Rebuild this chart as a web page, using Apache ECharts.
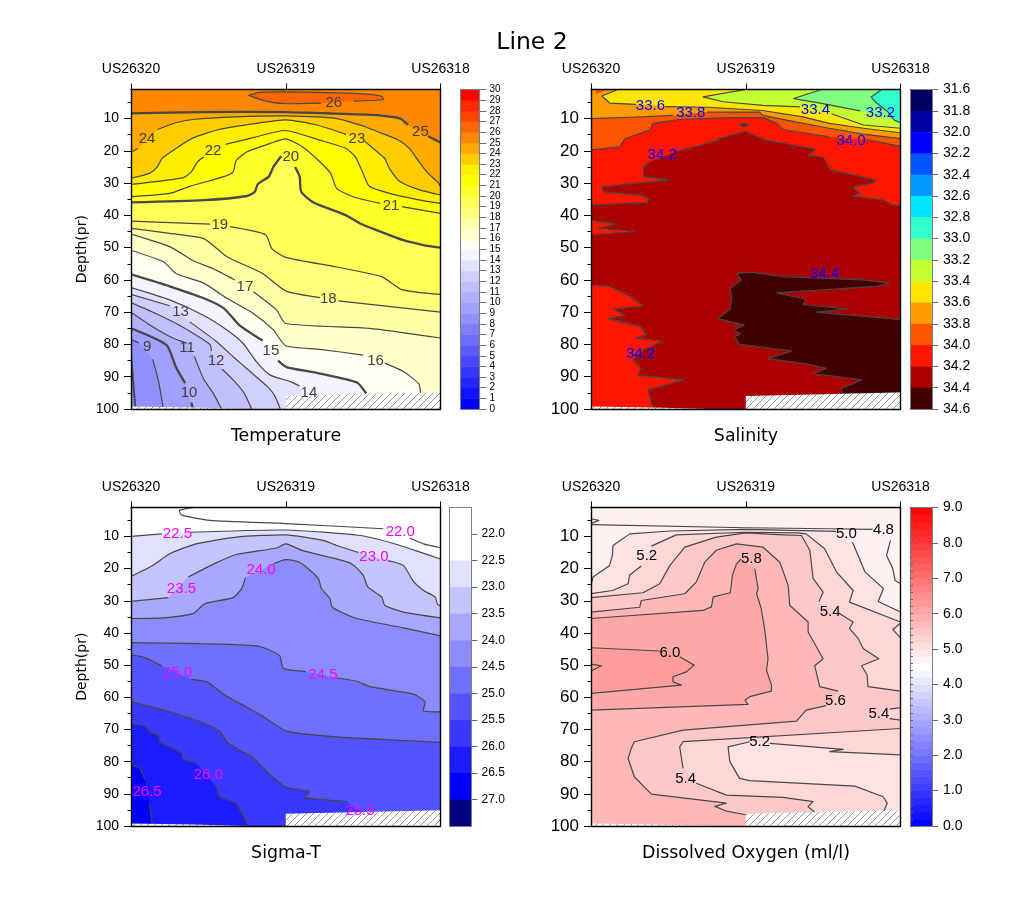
<!DOCTYPE html>
<html>
<head>
<meta charset="utf-8">
<style>html,body{margin:0;padding:0;background:#fff}#c{width:1024px;height:905px}</style>
<script src="https://cdn.jsdelivr.net/npm/echarts@6/dist/echarts.min.js"></script>
</head>
<body>
<div id="c"></div>
<script>
// ---------- shared axis values ----------
const stationNames = ['US26320', 'US26319', 'US26318'];
const depthMajor = [10, 20, 30, 40, 50, 60, 70, 80, 90, 100];
const depthMinor = [5, 15, 25, 35, 45, 55, 65, 75, 85, 95];
const plotCorners = [[0, 1], [200, 1], [200, 100], [0, 100]];
const missingLeft = [[0, 99.2], [40, 99.5], [76, 100], [0, 100]];

// ---------- colour bars ----------
const tempLevels = [0, 1, 2, 3, 4, 5, 6, 7, 8, 9, 10, 11, 12, 13, 14, 15, 16, 17, 18, 19, 20, 21, 22, 23, 24, 25, 26, 27, 28, 29, 30];
const tempColors = ['#0000ff', '#1212ff', '#2424ff', '#3636ff', '#4848ff', '#5a5aff', '#6c6cff', '#7e7eff', '#9090ff', '#a0a0ff', '#b0b0ff', '#c0c0ff', '#d0d0ff', '#e2e2ff', '#f4f4ff', '#fffff0', '#ffffcc', '#ffffa5', '#ffff7a', '#ffff55', '#ffff2a', '#ffff00', '#ffee00', '#ffcc00', '#ffaa00', '#ff8800', '#ff6600', '#ff4400', '#ff2a00', '#ff0000'];
const salLevels = [31.6, 31.8, 32.0, 32.2, 32.4, 32.6, 32.8, 33.0, 33.2, 33.4, 33.6, 33.8, 34.0, 34.2, 34.4, 34.6];
const salColors = ['#000060', '#0000a8', '#0000ff', '#0055ff', '#0099ff', '#00e6ff', '#33ffcc', '#80ff80', '#c4ff33', '#ffe600', '#ff9c00', '#ff5500', '#ff1500', '#aa0000', '#400000'];
const sigmaLevels = [21.5, 22.0, 22.5, 23.0, 23.5, 24.0, 24.5, 25.0, 25.5, 26.0, 26.5, 27.0, 27.5];
const sigmaColors = ['#ffffff', '#ffffff', '#e0e0ff', '#c4c4ff', '#a8a8ff', '#8c8cff', '#7070ff', '#5454ff', '#3838ff', '#1c1cff', '#0000ff', '#000080'];
const oxyLevels = [0, 0.2, 0.4, 0.6, 0.8, 1.0, 1.2, 1.4, 1.6, 1.8, 2.0, 2.2, 2.4, 2.6, 2.8, 3.0, 3.2, 3.4, 3.6, 3.8, 4.0, 4.2, 4.4, 4.6, 4.8, 5.0, 5.2, 5.4, 5.6, 5.8, 6.0, 6.2, 6.4, 6.6, 6.8, 7.0, 7.2, 7.4, 7.6, 7.8, 8.0, 8.2, 8.4, 8.6, 8.8, 9.0];
const oxyFill = ['#fff1ef', '#ffe3e3', '#ffd6d6', '#ffc8c8', '#ffb8b8', '#ffa8a8', '#ff9c9c'];

// ---------- missing-data wedges (x, depth) ----------
const missingRight1 = [[100, 96], [200, 94.9], [200, 100], [100, 100]];
const missingRight2 = [[100, 96.2], [200, 95.1], [200, 100], [100, 100]];

// ---------- Temperature contours (x, depth); null = gap round a label ----------
const t26 = [[76, 2.8], [83, 1.9], [111, 1.8], [148, 2.3], [162, 3.1], [163, 4.1], [144, 4.6], null, [123, 5.2], [98, 5.4], [88, 4.7], [76, 2.8]];
const t25 = [[0, 8.4], [47, 8], [100, 8], [133, 8.5], [160, 9], [174, 10], [179, 12], null, [192, 15.5], [200, 17.4]];
const t24 = [[0, 20.5], [4.5, 19.3], null, [17, 13.4], [29, 11.3], [40, 10.3], [68, 9.5], [100, 9.2], [133, 10], [150, 12.3], [159, 14], [173, 16.7], [180, 19.3], [187, 24], [192, 27], [198, 29.6], [200, 31]];
const t23 = [[0, 28.5], [12, 27], [17, 25], [20, 22.4], [29, 19.3], [40, 16], [57, 13.4], [81, 11.5], [100, 10.4], [120, 12], [139, 14.9], null, [151, 17], [159, 20.3], [164, 22.4], [167, 25.5], [174, 29.6], [187, 32.2], [200, 33.7]];
const t22 = [[0, 30.4], [34, 28.3], [39, 26.5], [43, 23.4], [47, 21.9], null, [61, 18], [79, 15.9], [100, 13.7], [122, 16.7], [139, 19.3], [145, 21.9], [150, 27], [154, 31], [167, 33.2], [185, 35.1], [200, 36.3]];
const t21 = [[0, 34.2], [25, 33.2], [38, 31], [60, 28], [66, 26.5], [68, 23], [75, 20.3], [90, 17.7], [100, 16.3], [111, 18.8], [122, 23.4], [129, 27], [133, 31.7], [144, 34.3], [161, 36.3], null, [175, 37.3], [200, 39.4]];
const t20 = [[0, 36], [47, 35.3], [75, 34], [80, 32.7], [82, 30.3], [89, 28], [92, 25], [97, 21.7], null, [106, 25], [109, 28], [110, 32.7], [118, 36], [139, 40], [148, 42.5], [161, 45], [176, 47.7], [189, 49.2], [200, 50]];
const t19 = [[0, 41.8], [51, 42.7], null, [64, 43.5], [87, 46], [91, 50.3], [100, 53], [133, 56], [162, 59], [175, 63], [200, 64.5]];
const t18 = [[0, 44], [25, 45.6], [47, 47.2], [62, 52.8], [85, 58], [100, 63.4], [122, 65.5], null, [134, 66.5], [200, 70]];
const t17 = [[0, 45.8], [25, 49.7], [40, 54], [53, 56.5], [67, 60], null, [79, 63.7], [94, 69.3], [100, 73.5], [154, 75], [200, 78]];
const t16 = [[0, 50.8], [21, 54.4], [29, 58], [47, 61], [62, 65.7], [79, 70.4], [92, 75.5], [100, 80.4], [122, 81.5], [150, 83.3], null, [164, 85.8], [176, 88.4], [186, 92.2], [187, 95]];
const t15 = [[0, 58.3], [25, 62], [47, 65.7], [60, 68.8], [70, 74], [85, 78.8], null, [95, 85], [100.5, 87], [120, 88.8], [146, 91.8], [152, 95.2]];
const t14 = [[0, 62.4], [25, 66.2], [47, 71], [62, 75.5], [72.5, 79.7], [81, 85.3], [90, 89.5], [103, 91.5], [109, 92.9], null, [111, 96]];
const t13 = [[0, 64.5], [25, 68], null, [38, 73], [55, 79], [66, 83.8], [77, 88.4], [88, 93], [93, 96], [96.5, 100]];
const t12 = [[0, 67], [16, 70.4], [31, 74], [51, 80], [52, 82], null, [59, 87.7], [66, 91], [73, 95], [78, 100]];
const t11 = [[0, 70], [14, 74.5], [27, 78], [36, 79.6], null, [41, 83.7], [47, 90.8], [53, 95], [58.5, 100]];
const t10 = [[0, 75], [23, 80.2], [29, 87], [35, 92], null, [39, 98], [40, 100]];
const t9 = [[0, 78.5], [5, 79.5], null, [14, 84.6], [17.5, 90.8], [21, 100]];
const t8 = [[0, 82.5], [1.5, 92], [3, 100]];
const tempLabels = [[131, 5, '26'], [187, 14.2, '25'], [10.4, 16.2, '24'], [146, 16.2, '23'], [53, 20, '22'], [168, 37.1, '21'], [103.3, 22, '20'], [57.4, 43, '19'], [127.5, 66, '18'], [73.6, 62, '17'], [158, 85, '16'], [90.4, 82, '15'], [115, 95, '14'], [32, 70, '13'], [55, 85, '12'], [36.2, 81.2, '11'], [37.5, 95, '10'], [10.4, 80.9, '9']];

// ---------- Salinity contours ----------
const sCorner = [[3, 2.5], [8, 1.5], [16, 1], [3, 1]];
const s336 = [[17.5, 1], [7, 3], [12, 5.2], [29, 5.6], null, [48, 6.3], [76, 6.5], [111, 7.5], [137, 9.5], [154, 11.5], [176, 13], [200, 14.4]];
const s334 = [[100, 1], [72.4, 3.3], [85.3, 4.8], [111, 5.9], [135, 6.4], null, [155.4, 8.5], [176, 12], [200, 13]];
const s332 = [[149, 1], [131, 3.8], [148, 5.2], [164, 6.7], [174, 7.6]];
const s330 = [[188, 1], [181, 3.3], [184.5, 5.2], [192, 8], [196, 10.5], [200, 11.3]];
const s338 = [[0, 10], [25, 9.6], [53, 9], null, [75, 8], [109, 8], [111, 9], [137, 11.5], [154, 13], [176, 14.8], [200, 16.2]];
const s340 = [[0, 19.7], [18.5, 18.8], [22, 16.2], [38, 13.6], [40, 11.5], [57, 10.3], [90, 9.7], [111, 9.7], [120, 11.5], [124, 13.4], [154, 15.7], null, [178, 16.5], [200, 18.6]];
const sDot = [[96, 12], [99, 11.5], [102, 12], [99, 12.7], [96, 12]];
const s342 = [[0, 36.8], [36, 36], [37.5, 34.8], [31.5, 33.7], [8, 32.7], [7, 31.2], [50, 29], [34, 28], [34, 25], [38, 23.4], null, [55, 20.3], [83, 16.7], [82, 16.2], [100, 14], [113, 16.7], [140, 19], [145, 19.6], [140, 21.4], [150, 22], [155, 26], [184, 29], [182, 30], [169, 31.2], [174, 33.2], [169, 34], [189, 35.3], [195, 36.8], [200, 37]];
const s342mid = [[0, 41.5], [16.5, 42.7], [4.5, 44], [29, 45], [0, 46]];
const s342low = [[0, 61.6], [12, 62], [25, 65], [33.6, 68], [15, 69], [22, 71], [11, 72], [32, 74.5], [36, 77], [29, 78], [46.5, 79], [33.6, 81.7], [27, 84.8], [32.5, 87.4], [30.4, 89.5], [60.5, 91], [37, 94], [40, 100]];
const s344 = [[94, 58], [103, 57.6], [124, 59], [176, 60], [193, 61], [184.5, 62], [120, 64], [139, 66], [137, 67.7], [166, 69], [146, 70], [200, 72.3]];
const s344low = [[200, 95], [162, 95.3], [162, 93.6], [175, 91], [143.5, 89], [152, 87.4], [139, 86], [114.5, 84.4], [129.5, 82], [96, 80], [93, 77.6], [97, 76.6], [92, 75.6], [99, 74], [82, 72], [90, 69], [91, 65.7], [90, 62.7], [97, 60], [94, 58]];
const salLabels = [[38.4, 6.2, '33.6'], [64.5, 8.2, '33.8'], [145, 7.2, '33.4'], [187, 8.2, '33.2'], [168, 17, '34.0'], [46, 21.4, '34.2'], [151, 58, '34.4'], [32, 83, '34.2']];

// ---------- Sigma-T contours ----------
const g220 = [[41, 1], [31.5, 1.9], [32.5, 3.3], [51, 5], [100, 6], [163, 7.6], null, [180, 10.5], [189, 12.3], [200, 13.5]];
const g225 = [[0, 10], [20, 9.2], null, [38.5, 8.7], [100, 8], [148, 9.7], [167, 11.8], [184, 14.4], [200, 17]];
const g230 = [[0, 22.4], [14, 19], [25, 15.4], [42, 12.3], [68, 10.2], [100, 9.5], [124, 11.2], [133, 12.8], [147, 15], null, [166, 17.5], [176, 19], [182.5, 24], [189, 26.8], [196.5, 28.8], [198, 31], [200, 31.6]];
const g235 = [[0, 30.2], [24, 29], null, [37, 22.6], [55, 18.2], [68, 15.6], [94, 13.6], [100, 12.3], [111, 14.4], [141.5, 18.2], [150, 22], [153, 25.7], [162, 28.8], [164, 31.4], [176, 33.5], [200, 35.3]];
const g240 = [[0, 35.5], [23, 35.2], [40, 34], [47.7, 30.9], [66, 29], [71.5, 26.2], [74, 22.8], null, [92, 18.5], [100, 17.2], [109, 18], [121, 23], [123, 26.2], [128.6, 29.3], [130, 32], [146, 35.5], [176, 38.4], [200, 40.9]];
const g245 = [[0, 43], [81, 44], [96, 47], [98.4, 51], [113, 52], null, [133, 54], [146, 55], [154.5, 56.7], [182.5, 59], [190, 61.4], [189, 64.2], [200, 64.5]];
const g250 = [[0, 46.7], [10, 47.8], [20, 50.3], null, [39, 54.4], [49, 55.2], [60.6, 59.3], [74.6, 63], [85.5, 66], [100.5, 70.5], [133, 72.3], [200, 74]];
const g255 = [[0, 61.4], [25, 64.5], [46.6, 68], [57.4, 70.6], [62.8, 74.3], [78, 78.5], [92, 85], [100.5, 88], [115.6, 89.3], [112.4, 91.2], [139.4, 92.4], null, [150, 96]];
const g260 = [[0, 68.3], [9, 68.9], [12, 70.7], [18.5, 72.2], [18.5, 73.8], [32.6, 77.4], [33.6, 79.2], [42.3, 80.5], null, [55, 87.8], [57.4, 90.9], [68, 93], [75.7, 100]];
const g265 = [[0, 81], [5.6, 82], [9, 85.7], null, [12, 93], [13.8, 100]];
const sigmaLabels = [[30, 9.2, '22.5'], [174, 8.7, '22.0'], [157, 16.2, '23.0'], [32.6, 26.2, '23.5'], [84, 20.3, '24.0'], [30, 52.4, '25.0'], [124, 53.1, '24.5'], [50, 84.1, '26.0'], [10.4, 89.3, '26.5'], [148, 95.3, '25.5']];

// ---------- Dissolved oxygen contours ----------
const o48 = [[0, 6.3], [100, 7.3], [154, 7.6], [182, 7.8], null, [193.5, 11.2], [191, 15.9], [195, 20], [196.5, 23.7], [200, 24.7]];
const o48wisp = [[0, 4.5], [5, 5], [0, 6]];
const o50 = [[0, 25.2], [1.3, 22.6], [12, 19], [13.8, 15.9], [14.2, 12.8], [25, 9.2], [51, 8.3], [100, 7.8], [158.6, 8.4], null, [169, 11.8], [172.6, 15.9], [177, 21], [189, 26.2], [185.6, 30.2], [200, 33.5]];
const o52 = [[0, 27.8], [14, 26.8], [24, 24.7], [25, 22], [32.5, 19.2], null, [39, 13], [55, 9.5], [100, 8.7], [133, 8.9], [139, 9.2], [151, 13.8], [158.6, 21], [169.4, 26.8], [167, 30.4], [200, 36.6]];
const o52wedge = [[200, 37], [195, 38.9], [200, 41.5]];
const o54 = [[0, 29], [33.6, 27.5], [44.4, 24.7], [51, 19], [60.6, 13.3], [81, 10.2], [100, 8.9], [124, 9.5], [136, 9.7], [141.4, 14.3], [143.5, 23], [150, 27.3], [147.4, 30.2], null, [160.8, 34], [169.4, 36.6], [167, 38.6], [172.6, 41.7], [176, 44.9], [186, 48], [174.8, 50.2], [178.4, 53], [179, 56.7], [200, 58.1]];
const o56 = [[0, 33.5], [31.5, 32], [32.5, 29.9], [60.6, 27.8], [68, 24.2], [73.5, 18], [81, 14.3], [94, 12.3], [111, 13.3], [122, 18], [127.4, 25.2], [128.4, 31.4], [140.3, 36.6], [140.3, 39.7], [150, 48], [144.6, 50.2], [147.8, 56.7], [159.7, 58.1], null, [152, 62.6], [139, 64], [132.8, 67.4], [59.5, 70.2], [28, 73.8], [26, 75.9], [24, 79], [28, 84.7], [39, 90.1], [87.5, 92.9], [80, 93.9], [87.5, 95.4], [100, 96.5]];
const o58 = [[0, 35.5], [72.4, 33], [77.8, 31.9], [79, 28.8], [90, 27.5], [91.4, 22.1], [94, 18.5], [97, 17], null, [105.8, 20], [108, 26.2], [107, 27.8], [110, 32.4], [112.3, 39.2], [114.4, 48], [113.4, 51.6], [116.6, 56.2], [116.6, 58.1], [102.6, 59.8], [99.4, 60.9], [101.5, 62.2], [0, 64]];
const o60 = [[0, 44.6], [44.4, 45.6], null, [57.3, 47.4], [66.6, 50], [61.6, 52.1], [53, 53.6], [53, 55.2], [58.4, 56.2], [0, 58.8]];
const o60notch = [[0, 49.7], [6.7, 50.2], [0, 51.8]];
const o54low = [[200, 69.7], [59.5, 73.8], [57.3, 75.4], [59.5, 82.1], null, [68, 86.7], [87.5, 90.4], [124, 91.1], [143.5, 92.4], [140.3, 94], [144.6, 95.7]];
const o52low = [[200, 77.9], [154.3, 76.9], [163, 76.2], [115.5, 74.3], null, [102.6, 73.8], [88.6, 75.4], [89.7, 80], [96, 85.2], [102.6, 85.9], [170.5, 87.6], [188.8, 90.9], [191.4, 92.9], [189.2, 95.5]];
const o54wedge = [[200, 63.2], [193, 63.7], null, [186, 65.2], null, [193, 66.6], [200, 67.1]];
const oxyLabels = [[189, 8.1, '4.8'], [165, 9.2, '5.0'], [36, 16.1, '5.2'], [103.6, 16.9, '5.8'], [154.5, 33.3, '5.4'], [51, 46.2, '6.0'], [158, 61.2, '5.6'], [186, 65.2, '5.4'], [109, 74, '5.2'], [61.2, 85.2, '5.4']];

// ---------- build ----------
const FONT = '"Liberation Sans"';
function below(line) { const ps = line.filter(Boolean); return [[ps[ps.length - 1][0], 100], [0, 100]]; }
const sh = (line, color, opt) => Object.assign({ line, color, lw: 1.2, via: color ? below(line) : null }, opt || {});
const tempShapes = [
  { line: plotCorners, color: tempColors[25], noStroke: true, via: [] },
  sh(t26, tempColors[26], { via: [] }),
  sh(t25, tempColors[24], { lw: 2.3 }), sh(t24, tempColors[23]), sh(t23, tempColors[22]), sh(t22, tempColors[21]), sh(t21, tempColors[20]),
  sh(t20, tempColors[19], { lw: 2.3 }), sh(t19, tempColors[18]), sh(t18, tempColors[17]), sh(t17, tempColors[16]), sh(t16, tempColors[15]),
  sh(t15, tempColors[14], { lw: 2.3 }), sh(t14, tempColors[13]), sh(t13, tempColors[12]), sh(t12, tempColors[11]), sh(t11, tempColors[10]),
  sh(t10, tempColors[9], { lw: 2.3 }), sh(t9, tempColors[8]), sh(t8, tempColors[7], { lw: 1.8 })
];
const salShapes = [
  { line: plotCorners, color: salColors[10], noStroke: true, via: [] },
  { line: sCorner, color: salColors[11], noStroke: true, via: [] },
  sh(s336, salColors[9], { via: [[200, 1]] }),
  sh(s334, salColors[8], { via: [[200, 1]] }),
  sh(s332, salColors[7], { via: [[200, 11], [200, 1]] }),
  sh(s330, salColors[6], { via: [[200, 1]] }),
  sh(s338, salColors[11]), sh(s340, salColors[12]), sh(s342, salColors[13]),
  sh(sDot, salColors[13], { via: [] }),
  sh(s342mid, salColors[12], { via: [] }),
  sh(s342low, salColors[12]),
  { line: s344.concat([null], s344low), color: salColors[14], lw: 1.2, via: [] }
];
const sigmaShapes = [
  { line: plotCorners, color: sigmaColors[1], noStroke: true, via: [] },
  sh(g220, null),
  sh(g225, sigmaColors[2]), sh(g230, sigmaColors[3]), sh(g235, sigmaColors[4]), sh(g240, sigmaColors[5]), sh(g245, sigmaColors[6]),
  sh(g250, sigmaColors[7]), sh(g255, sigmaColors[8]), sh(g260, sigmaColors[9]), sh(g265, sigmaColors[10])
];
const oxyShapes = [
  { line: plotCorners, color: oxyFill[0], noStroke: true, via: [] },
  sh(o48, null), sh(o48wisp, null),
  sh(o50, oxyFill[1], { via: [[200, 100], [0, 100]] }),
  sh(o52, oxyFill[2], { via: [[200, 100], [0, 100]] }),
  sh(o52wedge, oxyFill[1], { via: [] }),
  sh(o54, oxyFill[3], { via: [[200, 100], [0, 100]] }),
  sh(o56, oxyFill[4]),
  sh(o58, oxyFill[5], { via: [] }),
  sh(o60, oxyFill[6], { via: [] }),
  sh(o60notch, oxyFill[5], { via: [] }),
  sh(o54low, oxyFill[2], { via: [[144.6, 100], [200, 100]] }),
  sh(o52low, oxyFill[1], { via: [[189.2, 100], [200, 100]] }),
  sh(o54wedge, oxyFill[2], { via: [] })
];

function oxyColor(v) {
  const m = (v + 0.1);
  if (m < 4.5) { const c = Math.round(255 * m / 4.5); return `rgb(${c},${c},255)`; }
  const c = Math.round(255 * (9 - m) / 4.5); return `rgb(255,${c},${c})`;
}
const oxyColors = oxyLevels.slice(0, -1).map(oxyColor);

// hatch pattern
const hatch = document.createElement('canvas');
hatch.width = 7; hatch.height = 7;
(function () {
  const g = hatch.getContext('2d');
  g.fillStyle = '#fff'; g.fillRect(0, 0, 7, 7);
  g.strokeStyle = '#666'; g.lineWidth = 0.7;
  [[-7, 7, 7, -7], [0, 7, 7, 0], [0, 14, 14, 0]].forEach(l => { g.beginPath(); g.moveTo(l[0], l[1]); g.lineTo(l[2], l[3]); g.stroke(); });
})();

const panels = [
  { left: 131, top: 89.5, w: 309.5, h: 319.5, shapes: tempShapes, labels: tempLabels, lcol: '#404040', lfont: 15, miss: missingRight1, yFont: 14, yName: true, smooth: 0.2,
    bar: { left: 460.5, w: 19, levels: tempLevels, colors: tempColors, inverse: false, font: 10, margin: 10, tick: 7, vals: tempLevels, fmt: v => String(v), min: 0, max: 30 }, title: 'Temperature', tx: 286, ty: 428 },
  { left: 591, top: 89.5, w: 309.5, h: 319.5, shapes: salShapes, labels: salLabels, lcol: '#0000ff', lfont: 15, miss: missingRight1, yFont: 17, yName: false, smooth: 0,
    bar: { left: 910, w: 22, levels: salLevels, colors: salColors, inverse: true, font: 14, margin: 11, tick: 6, vals: salLevels, fmt: v => v.toFixed(1), min: 31.6, max: 34.6 }, title: 'Salinity', tx: 746, ty: 428 },
  { left: 131, top: 507.5, w: 309.5, h: 318.5, shapes: sigmaShapes, labels: sigmaLabels, lcol: '#ff00ff', lfont: 15, miss: missingRight2, yFont: 14, yName: true, smooth: 0.2,
    bar: { left: 449.5, w: 22, levels: sigmaLevels, colors: sigmaColors, inverse: true, font: 12, margin: 10, tick: 6, vals: sigmaLevels.slice(1, -1), fmt: v => v.toFixed(1), min: 21.5, max: 27.5 }, title: 'Sigma-T', tx: 286, ty: 845 },
  { left: 591, top: 507.5, w: 309.5, h: 318.5, shapes: oxyShapes, labels: oxyLabels, lcol: '#000000', lfont: 15, miss: missingRight2, yFont: 17, yName: false, smooth: 0,
    bar: { left: 910, w: 22, levels: oxyLevels, colors: oxyColors, inverse: false, font: 14, margin: 11, tick: 6, vals: [0, 1, 2, 3, 4, 5, 6, 7, 8, 9], minorVals: oxyLevels, fmt: v => v.toFixed(1), min: 0, max: 9 }, title: 'Dissolved Oxygen (ml/l)', tx: 746, ty: 845 }
];

const grid = [], xAxis = [], yAxis = [], series = [], title = [
  { text: 'Line 2', left: 532, top: 31, padding: 0, textAlign: 'center', textStyle: { fontFamily: 'DejaVu Sans', fontSize: 23.5, fontWeight: 'normal', color: '#000' } }
];
panels.forEach(p => {
  const gi = grid.length;
  grid.push({ left: p.left, top: p.top, width: p.w, height: p.h, containLabel: false });
  const ax = { min: 0, max: 200, type: 'value', gridIndex: gi, z: 10, splitLine: { show: false } };
  const line = { show: true, onZero: false, lineStyle: { color: '#000', width: 1.4 } };
  const topIdx = xAxis.length;
  xAxis.push(Object.assign({}, ax, { position: 'top', interval: 100, axisLine: line,
    axisTick: { show: true, length: 6, inside: false, lineStyle: { color: '#000', width: 1 } },
    axisLabel: { show: true, margin: 13, fontFamily: FONT, fontSize: 14, color: '#000', formatter: v => stationNames[v / 100] } }));
  xAxis.push(Object.assign({}, ax, { position: 'bottom', axisLine: line, axisTick: { show: false }, axisLabel: { show: false } }));
  const ay = { type: 'value', gridIndex: gi, min: 1, max: 100, inverse: true, z: 10, splitLine: { show: false } };
  const mainIdx = yAxis.length;
  yAxis.push(Object.assign({}, ay, { position: 'left', axisLine: line,
    axisTick: { show: true, length: 7, customValues: depthMajor, lineStyle: { color: '#000', width: 1 } },
    axisLabel: { show: true, customValues: depthMajor, margin: 12, fontFamily: FONT, fontSize: p.yFont, color: '#000' },
    name: p.yName ? 'Depth(pr)' : '', nameLocation: 'middle', nameGap: 42, nameRotate: 90, nameTextStyle: { fontFamily: 'DejaVu Sans', fontSize: 14, color: '#000' } }));
  yAxis.push(Object.assign({}, ay, { position: 'left', axisLine: { show: false },
    axisTick: { show: true, length: 3.5, customValues: depthMinor, lineStyle: { color: '#000', width: 1 } }, axisLabel: { show: false } }));
  yAxis.push(Object.assign({}, ay, { position: 'right', axisLine: line, axisTick: { show: false }, axisLabel: { show: false } }));

  series.push({
    type: 'custom', coordinateSystem: 'cartesian2d', xAxisIndex: topIdx, yAxisIndex: mainIdx, z: 2, silent: true, clip: true,
    data: p.shapes.map((s, i) => [0, 1, i]), animation: false,
    renderItem: (params, api) => {
      const s = p.shapes[params.dataIndex];
      const children = [];
      const pts = s.line.filter(Boolean);
      if (s.color) {
        const all = pts.concat(s.via || []).map(q => api.coord(q));
        children.push({ type: 'polygon', shape: { points: all }, style: { fill: s.color, stroke: null } });
      }
      if (!s.noStroke) {
        let seg = [];
        const flush = () => { if (seg.length > 1) children.push({ type: 'polyline', shape: { points: seg.map(q => api.coord(q)), smooth: p.smooth }, style: { fill: null, stroke: '#474747', lineWidth: s.lw, lineJoin: 'round' } }); seg = []; };
        s.line.forEach(q => { if (q) seg.push(q); else flush(); });
        flush();
      }
      return { type: 'group', children };
    }
  });
  // missing data wedges
  series.push({
    type: 'custom', coordinateSystem: 'cartesian2d', xAxisIndex: topIdx, yAxisIndex: mainIdx, z: 3, silent: true, clip: true, animation: false,
    data: [[0, 1, 0], [0, 1, 1]],
    renderItem: (params, api) => {
      const poly = (params.dataIndex === 0 ? p.miss : missingLeft).map(q => api.coord(q));
      return { type: 'polygon', shape: { points: poly }, style: { fill: { image: hatch, repeat: 'repeat' }, stroke: null } };
    }
  });
  // contour labels
  series.push({
    type: 'custom', coordinateSystem: 'cartesian2d', xAxisIndex: topIdx, yAxisIndex: mainIdx, z: 5, silent: true, clip: false, animation: false,
    encode: { x: 0, y: 1 },
    data: p.labels,
    renderItem: (params, api) => {
      const c = api.coord([api.value(0), api.value(1)]);
      return { type: 'text', style: { x: c[0], y: c[1], text: p.labels[params.dataIndex][2], fill: p.lcol, font: p.lfont + 'px ' + FONT, align: 'center', verticalAlign: 'middle' } };
    }
  });
  title.push({ text: p.title, left: p.tx, top: p.ty, padding: 0, textAlign: 'center', textStyle: { fontFamily: 'DejaVu Sans', fontSize: 17.4, fontWeight: 'normal', color: '#000' } });

  // colour bar
  const b = p.bar, bg = grid.length;
  grid.push({ left: b.left, top: p.top, width: b.w, height: p.h });
  const edge = { show: true, onZero: false, lineStyle: { color: '#808080', width: 1 } };
  const bx = xAxis.length;
  xAxis.push({ type: 'value', gridIndex: bg, min: 0, max: 1, position: 'bottom', z: 10, splitLine: { show: false }, axisLine: edge, axisTick: { show: false }, axisLabel: { show: false } });
  xAxis.push({ type: 'value', gridIndex: bg, min: 0, max: 1, position: 'top', z: 10, splitLine: { show: false }, axisLine: edge, axisTick: { show: false }, axisLabel: { show: false } });
  const by = yAxis.length;
  yAxis.push({ type: 'value', gridIndex: bg, min: b.min, max: b.max, inverse: !!b.inverse, position: 'right', z: 10, splitLine: { show: false }, axisLine: edge,
    axisTick: { show: true, length: b.tick, customValues: b.vals, lineStyle: { color: '#666', width: 1 } },
    axisLabel: { show: true, customValues: b.vals, margin: b.margin, fontFamily: FONT, fontSize: b.font, color: '#000', formatter: b.fmt, showMinLabel: true, showMaxLabel: true, hideOverlap: false } });
  yAxis.push({ type: 'value', gridIndex: bg, min: b.min, max: b.max, inverse: !!b.inverse, position: 'left', z: 10, splitLine: { show: false }, axisLine: edge, axisTick: { show: false }, axisLabel: { show: false } });
  if (b.minorVals) {
    yAxis.push({ type: 'value', gridIndex: bg, min: b.min, max: b.max, inverse: !!b.inverse, position: 'right', z: 10, splitLine: { show: false }, axisLine: { show: false },
      axisTick: { show: true, length: 3, customValues: b.minorVals, lineStyle: { color: '#666', width: 1 } }, axisLabel: { show: false } });
  }
  series.push({
    type: 'custom', coordinateSystem: 'cartesian2d', xAxisIndex: bx, yAxisIndex: by, z: 2, silent: true, animation: false,
    data: b.colors.map((c, i) => [0, b.levels[i], b.levels[i + 1]]),
    encode: { x: 0, y: [1, 2] },
    renderItem: (params, api) => {
      const a = api.coord([0, api.value(1)]), e = api.coord([1, api.value(2)]);
      return { type: 'rect', shape: { x: a[0], y: Math.min(a[1], e[1]), width: e[0] - a[0], height: Math.abs(e[1] - a[1]) + 0.5 }, style: { fill: b.colors[params.dataIndex], stroke: null } };
    }
  });
});

const chart = echarts.init(document.getElementById('c'), null, { renderer: 'canvas' });
chart.setOption({ animation: false, backgroundColor: '#fff', title, grid, xAxis, yAxis, series });
</script>
</body>
</html>
